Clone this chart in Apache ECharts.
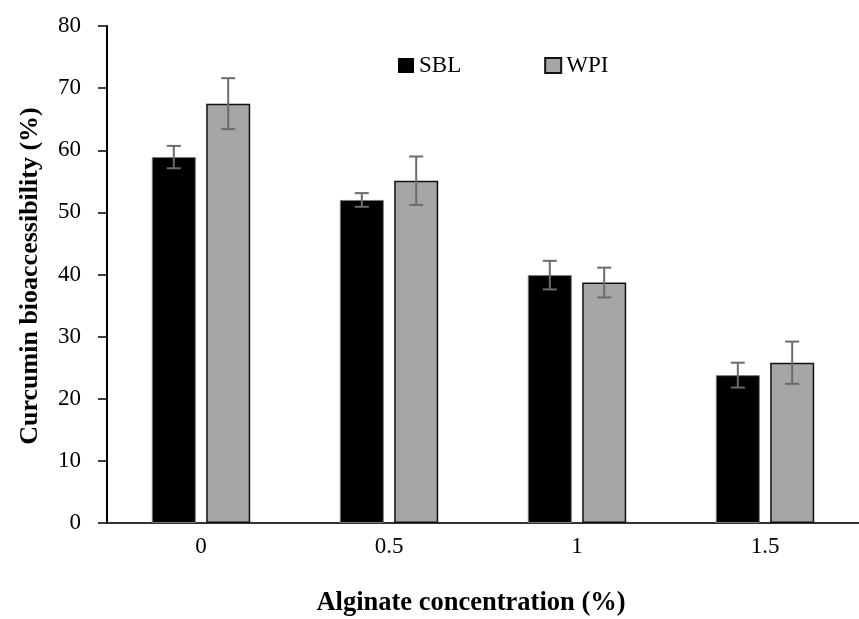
<!DOCTYPE html>
<html><head><meta charset="utf-8">
<script src="https://cdn.jsdelivr.net/npm/echarts@6/dist/echarts.min.js"></script>
<style>html,body{margin:0;padding:0;background:#fff}#c{width:859px;height:619px}</style>
</head><body><div id="c"></div>
<script>
const categories = ['0', '0.5', '1', '1.5'];
const sblValues = [58.9, 52.0, 39.9, 23.8];
const sblErrors = [1.8, 1.1, 2.3, 2.0];
const wpiValues = [67.5, 55.1, 38.7, 25.8];
const wpiErrors = [4.1, 3.9, 2.4, 3.4];
const yTicks = [0, 10, 20, 30, 40, 50, 60, 70, 80];

const FONT = 'Liberation Serif';
const BAR_W = 44, GAP = 10.4;
const OFF = (BAR_W + GAP) / 2;

function errSeries(vals, errs, offset) {
  return {
    type: 'custom',
    z: 10,
    data: vals.map((v, i) => [i, v - errs[i], v + errs[i]]),
    renderItem: function (params, api) {
      const lo = api.coord([api.value(0), api.value(1)]);
      const hi = api.coord([api.value(0), api.value(2)]);
      const x = lo[0] + offset;
      const cap = 7;
      const st = { stroke: '#6b6b6b', lineWidth: 2 };
      return {
        type: 'group',
        children: [
          { type: 'line', shape: { x1: x, y1: lo[1], x2: x, y2: hi[1] }, style: st },
          { type: 'line', shape: { x1: x - cap, y1: lo[1], x2: x + cap, y2: lo[1] }, style: st },
          { type: 'line', shape: { x1: x - cap, y1: hi[1], x2: x + cap, y2: hi[1] }, style: st }
        ]
      };
    }
  };
}

const chart = echarts.init(document.getElementById('c'), null, { renderer: 'canvas' });
chart.setOption({
  animation: false,
  backgroundColor: '#fff',
  grid: { left: 107, top: 26, width: 765, height: 497, containLabel: false },
  legend: {
    left: 398, top: 54, padding: 0,
    itemWidth: 16, itemHeight: 15, itemGap: 83,
    icon: 'rect',
    textStyle: { fontFamily: FONT, fontSize: 23, color: '#000' },
    data: [
      { name: 'SBL', itemStyle: { borderWidth: 0 } },
      { name: 'WPI' }
    ]
  },
  xAxis: {
    type: 'category',
    data: categories,
    axisLine: { lineStyle: { color: '#333', width: 2 } },
    axisTick: { show: false },
    axisLabel: { fontFamily: FONT, fontSize: 23, color: '#000', margin: 12 }
  },
  yAxis: {
    type: 'value',
    min: yTicks[0], max: yTicks[yTicks.length - 1], interval: 10,
    axisLine: { show: true, lineStyle: { color: '#000', width: 2 } },
    axisTick: { show: true, length: 9, lineStyle: { color: '#000', width: 1.5 } },
    splitLine: { show: false },
    axisLabel: { fontFamily: FONT, fontSize: 23, color: '#000', margin: 26 }
  },
  series: [
    {
      name: 'SBL', type: 'bar', data: sblValues,
      barWidth: BAR_W, barGap: (GAP / BAR_W * 100) + '%',
      itemStyle: { color: '#000', borderColor: '#777', borderWidth: 1 }
    },
    {
      name: 'WPI', type: 'bar', data: wpiValues,
      barWidth: BAR_W,
      itemStyle: { color: '#a6a6a6', borderColor: '#111', borderWidth: 1.5 }
    },
    errSeries(sblValues, sblErrors, -OFF),
    errSeries(wpiValues, wpiErrors, OFF)
  ],
  graphic: [
    {
      type: 'text',
      x: 30, y: 276, rotation: Math.PI / 2,
      style: { text: 'Curcumin bioaccessibility (%)', font: 'bold 26px "Liberation Serif"', fill: '#000', align: 'center', verticalAlign: 'middle' }
    },
    {
      type: 'text',
      x: 471, y: 603,
      style: { text: 'Alginate concentration (%)', font: 'bold 26.5px "Liberation Serif"', fill: '#000', align: 'center', verticalAlign: 'middle' }
    }
  ]
});
</script></body></html>
